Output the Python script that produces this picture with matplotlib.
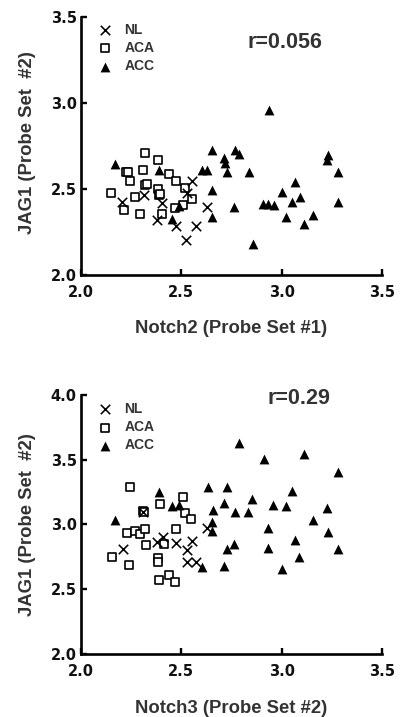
import matplotlib
matplotlib.use("Agg")
import matplotlib.pyplot as plt

# --------------------------------------------------
# Data: JAG1 vs Notch2 (top panel)
# --------------------------------------------------
n2_nl_x = [2.203, 2.312, 2.378, 2.403, 2.475, 2.523, 2.572, 2.628, 2.555, 2.528]
n2_nl_y = [2.426, 2.465, 2.320, 2.417, 2.285, 2.203, 2.285, 2.397, 2.547, 2.475]

n2_aca_x = [2.148, 2.212, 2.225, 2.235, 2.245, 2.270, 2.295, 2.308, 2.317, 2.320,
            2.328, 2.382, 2.382, 2.387, 2.392, 2.403, 2.440, 2.472, 2.467, 2.508,
            2.520, 2.553]
n2_aca_y = [2.475, 2.378, 2.600, 2.595, 2.547, 2.450, 2.353, 2.610, 2.707, 2.523,
            2.530, 2.669, 2.498, 2.465, 2.472, 2.353, 2.587, 2.547, 2.388, 2.407,
            2.504, 2.442]

n2_acc_x = [2.167, 2.387, 2.453, 2.487, 2.603, 2.628, 2.653, 2.653, 2.653, 2.712,
            2.717, 2.725, 2.762, 2.767, 2.787, 2.837, 2.855, 2.937, 2.908, 2.933,
            2.960, 3.002, 3.022, 3.053, 3.067, 3.090, 3.112, 3.157, 3.232, 3.228,
            3.283, 3.282]
n2_acc_y = [2.642, 2.610, 2.327, 2.398, 2.610, 2.610, 2.727, 2.494, 2.335, 2.678,
            2.649, 2.600, 2.397, 2.727, 2.703, 2.600, 2.180, 2.959, 2.414, 2.414,
            2.408, 2.484, 2.339, 2.426, 2.537, 2.450, 2.295, 2.349, 2.698, 2.669,
            2.600, 2.426]

# --------------------------------------------------
# Data: JAG1 vs Notch3 (bottom panel)
# --------------------------------------------------
n3_nl_x = [2.207, 2.310, 2.378, 2.407, 2.472, 2.526, 2.555, 2.530, 2.572, 2.628]
n3_nl_y = [2.810, 3.099, 2.867, 2.906, 2.858, 2.806, 2.870, 2.710, 2.710, 2.970]

n3_aca_x = [2.152, 2.240, 2.230, 2.245, 2.270, 2.295, 2.310, 2.314, 2.320, 2.325,
            2.383, 2.383, 2.387, 2.392, 2.412, 2.440, 2.470, 2.473, 2.508, 2.520,
            2.550]
n3_aca_y = [2.752, 2.690, 2.934, 3.287, 2.948, 2.930, 3.103, 3.093, 2.968, 2.842,
            2.739, 2.710, 2.571, 3.156, 2.852, 2.608, 2.553, 2.965, 3.215, 3.086,
            3.040]

n3_acc_x = [2.167, 2.387, 2.453, 2.487, 2.603, 2.632, 2.657, 2.653, 2.653, 2.712,
            2.712, 2.728, 2.728, 2.767, 2.762, 2.787, 2.832, 2.853, 2.912, 2.933,
            2.933, 2.958, 3.003, 3.020, 3.050, 3.065, 3.087, 3.112, 3.157, 3.228,
            3.232, 3.282, 3.283]
n3_acc_y = [3.035, 3.254, 3.145, 3.151, 2.674, 3.292, 3.112, 3.017, 2.952, 3.169,
            2.680, 3.292, 2.808, 3.099, 2.847, 3.632, 3.099, 3.194, 3.506, 2.970,
            2.816, 3.151, 2.656, 3.143, 3.259, 2.880, 2.746, 3.542, 3.035, 3.125,
            2.945, 3.408, 2.808]

x_ticks = [2.0, 2.5, 3.0, 3.5]
top_y_ticks = [2.0, 2.5, 3.0, 3.5]
bottom_y_ticks = [2.0, 2.5, 3.0, 3.5, 4.0]

# --------------------------------------------------
# Styles
# --------------------------------------------------
LABEL_FONT = "Liberation Sans"
TICK_FONT = "DejaVu Sans"
TEXT_GREY = "#333333"


def draw_panel(ax, nl, aca, acc, xlabel, yticks, r_text, r_pos, ylab_y, leg_y):
    ax.scatter(nl[0], nl[1], marker="x", s=46, c="black", linewidths=1.15,
               label="NL", zorder=3)
    ax.scatter(aca[0], aca[1], marker="s", s=30, facecolors="white",
               edgecolors="black", linewidths=1.2, label="ACA", zorder=2)
    ax.scatter(acc[0], acc[1], marker="^", s=50, c="black", linewidths=0,
               label="ACC", zorder=4)

    ax.set_xlim(2.0, 3.5)
    ax.set_ylim(yticks[0], yticks[-1])
    ax.set_xticks(x_ticks)
    ax.set_yticks(yticks)
    ax.set_xticklabels([f"{t:.1f}" for t in x_ticks])
    ax.set_yticklabels([f"{t:.1f}" for t in yticks])

    for side in ("top", "right"):
        ax.spines[side].set_visible(False)
    for side in ("left", "bottom"):
        ax.spines[side].set_linewidth(1.9)
        ax.spines[side].set_capstyle("projecting")

    ax.tick_params(direction="in", length=4.5, width=1.7, color="black")
    ax.tick_params(axis="x", pad=7)
    ax.tick_params(axis="y", pad=3)
    for lab in ax.get_xticklabels() + ax.get_yticklabels():
        lab.set_fontfamily(TICK_FONT)
        lab.set_fontweight("bold")
        lab.set_fontsize(10.5)
        lab.set_color("#111111")

    ax.set_xlabel(xlabel, fontfamily=LABEL_FONT, fontweight="bold",
                  fontsize=13.3, color=TEXT_GREY, va="center")
    ax.xaxis.set_label_coords(0.5, -0.209)
    ax.set_ylabel("JAG1 (Probe Set  #2)", fontfamily=LABEL_FONT,
                  fontweight="bold", fontsize=13.3, color=TEXT_GREY, va="center")
    ax.yaxis.set_label_coords(-0.179, ylab_y)

    ax.text(r_pos[0], r_pos[1], r_text, transform=ax.transAxes,
            ha="center", va="center", fontfamily=LABEL_FONT,
            fontweight="bold", fontsize=15.5, color=TEXT_GREY)

    leg = ax.legend(loc="upper left", bbox_to_anchor=(0.056, leg_y),
                    frameon=False, borderpad=0, borderaxespad=0,
                    handlelength=1.0, handletextpad=0.9, labelspacing=0.3,
                    scatterpoints=1,
                    prop={"family": LABEL_FONT, "weight": "bold", "size": 10})
    for t in leg.get_texts():
        t.set_color(TEXT_GREY)


# --------------------------------------------------
# Figure
# --------------------------------------------------
fig = plt.figure(figsize=(4.03, 7.17), dpi=100)

ax_top = fig.add_axes([0.201, 0.6165, 0.747, 0.3603])
draw_panel(ax_top, (n2_nl_x, n2_nl_y), (n2_aca_x, n2_aca_y),
           (n2_acc_x, n2_acc_y), "Notch2 (Probe Set #1)", top_y_ticks,
           "r=0.056", (0.678, 0.899), 0.511, 0.976)

ax_bottom = fig.add_axes([0.201, 0.0879, 0.747, 0.3612])
draw_panel(ax_bottom, (n3_nl_x, n3_nl_y), (n3_aca_x, n3_aca_y),
           (n3_acc_x, n3_acc_y), "Notch3 (Probe Set #2)", bottom_y_ticks,
           "r=0.29", (0.7226, 0.988), 0.498, 0.973)

fig.savefig("out.png", dpi=100)
plt.close(fig)
